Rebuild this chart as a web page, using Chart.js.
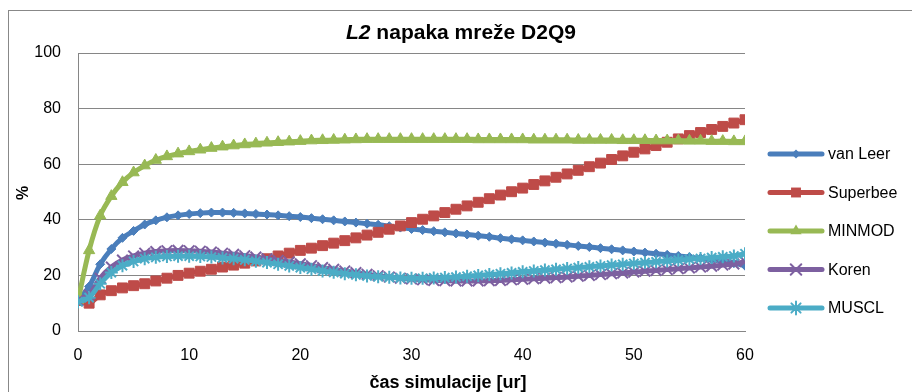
<!DOCTYPE html>
<html>
<head>
<meta charset="utf-8">
<script src="https://cdn.jsdelivr.net/npm/chart.js@4.4.1/dist/chart.umd.min.js"></script>
<style>
  html, body { margin: 0; padding: 0; background: #ffffff; }
  #wrap { position: relative; width: 912px; height: 392px; }
</style>
</head>
<body>
<div id="wrap"><canvas id="c" width="912" height="392"></canvas></div>
<script>
// ---- data ----
const timeHours = [0,1,2,3,4,5,6,7,8,9,10,11,12,13,14,15,16,17,18,19,20,21,22,23,24,25,26,27,28,29,30,
  31,32,33,34,35,36,37,38,39,40,41,42,43,44,45,46,47,48,49,50,51,52,53,54,55,56,57,58,59,60];

const vanLeer = [11,16,24,29.5,33.5,36,38.3,39.8,40.9,41.6,42.1,42.4,42.6,42.6,42.5,42.3,42.1,41.9,41.6,41.3,
  41,40.6,40.2,39.8,39.4,39,38.6,38.2,37.7,37.2,36.7,36.3,35.9,35.5,35.1,34.7,34.3,33.9,33.4,33,
  32.6,32.2,31.8,31.4,31,30.6,30.2,29.8,29.4,29,28.6,28.2,27.8,27.4,27,26.6,26.2,25.7,25.1,24.4,23.5];

const superbee = [11,10,13,14.5,15.5,16.3,17,18,19,20,20.8,21.5,22.2,23,23.7,24.4,25.2,26,27,28,
  29,29.8,30.7,31.6,32.5,33.5,34.5,35.5,36.6,37.8,39,40.2,41.4,42.6,43.8,45,46.3,47.6,48.9,50.1,
  51.4,52.7,54,55.3,56.5,57.8,59.1,60.4,61.7,63,64.3,65.5,66.7,67.9,69.1,70.3,71.4,72.5,73.6,74.8,76];

const minmod = [11,29,41.5,48.5,53.5,57,59.5,61.5,62.8,63.8,64.6,65.2,65.8,66.3,66.7,67.1,67.4,67.7,67.9,68.1,
  68.3,68.5,68.6,68.7,68.8,68.9,69,69,69,69,69,69,69,69,69,69,68.9,68.9,68.9,68.9,
  68.9,68.8,68.8,68.8,68.8,68.7,68.7,68.7,68.7,68.6,68.6,68.6,68.5,68.5,68.5,68.4,68.4,68.3,68.3,68.2,68.2];

const koren = [11,13,19,23,25.5,27,28,28.6,28.9,29,28.9,28.7,28.4,28,27.6,27.1,26.6,26,25.4,24.8,
  24.2,23.5,22.8,22.2,21.6,21,20.4,19.9,19.4,19,18.7,18.4,18.2,18.1,18,18,18,18.1,18.2,18.4,
  18.6,18.8,19,19.2,19.4,19.7,20,20.3,20.6,20.9,21.2,21.5,21.8,22.1,22.4,22.7,23,23.3,23.7,24.1,25];

const muscl = [10.5,12,17,21,23.5,25,26,26.5,26.8,26.9,26.9,26.8,26.6,26.3,26,25.6,25.1,24.6,24,23.4,
  22.8,22.2,21.6,21.1,20.6,20.2,19.8,19.5,19.3,19.1,19,19,19.1,19.2,19.4,19.7,20,20.3,20.6,20.9,
  21.3,21.6,21.9,22.2,22.5,22.8,23.1,23.4,23.7,24,24.3,24.6,24.9,25.2,25.5,25.8,26.1,26.4,26.7,27,27.8];

const seriesNames = ['van Leer', 'Superbee', 'MINMOD', 'Koren', 'MUSCL'];
const yTicks = [0, 20, 40, 60, 80, 100];
const xTicks = [0, 10, 20, 30, 40, 50, 60];
const chartTitleItalic = 'L2';
const chartTitleRest = ' napaka mreže D2Q9';
const xAxisTitle = 'čas simulacije [ur]';
const yAxisTitle = '%';

// ---- styling ----
const FONT = '"Liberation Sans", Arial, sans-serif';
const GRID = '#868686';
const styles = [
  { color: '#4A7EBB', point: 'rectRot',  radius: 4.5, bw: 1 },
  { color: '#BE4B48', point: 'rect',     radius: 7,   bw: 1 },
  { color: '#98B954', point: 'triangle', radius: 6.5, bw: 1 },
  { color: '#7D60A0', point: 'crossRot', radius: 7.5, bw: 2 },
  { color: '#4BACC6', point: 'star',     radius: 6.5, bw: 2 }
];
const values = [vanLeer, superbee, minmod, koren, muscl];

const datasets = seriesNames.map((name, i) => ({
  label: name,
  data: timeHours.map((t, k) => ({ x: t, y: values[i][k] })),
  borderColor: styles[i].color,
  backgroundColor: styles[i].color,
  pointBackgroundColor: styles[i].color,
  pointBorderColor: styles[i].color,
  pointStyle: styles[i].point,
  pointRadius: styles[i].radius,
  pointBorderWidth: styles[i].bw,
  borderWidth: 5,
  tension: 0.3,
  showLine: true,
  order: seriesNames.length - i
}));

function drawMarker(ctx, style, r, x, y, color, bw) {
  ctx.save();
  ctx.fillStyle = color; ctx.strokeStyle = color; ctx.lineWidth = bw;
  ctx.beginPath();
  if (style === 'rectRot') {
    ctx.moveTo(x, y - r); ctx.lineTo(x + r, y); ctx.lineTo(x, y + r); ctx.lineTo(x - r, y); ctx.closePath();
    ctx.fill();
  } else if (style === 'rect') {
    const s = r * Math.SQRT1_2; ctx.rect(x - s, y - s, 2 * s, 2 * s); ctx.fill();
  } else if (style === 'triangle') {
    ctx.moveTo(x, y - r);
    ctx.lineTo(x + r * Math.cos(Math.PI / 6), y + r * 0.5);
    ctx.lineTo(x - r * Math.cos(Math.PI / 6), y + r * 0.5);
    ctx.closePath(); ctx.fill();
  } else if (style === 'crossRot' || style === 'star') {
    const d = r * Math.SQRT1_2;
    ctx.moveTo(x - d, y - d); ctx.lineTo(x + d, y + d);
    ctx.moveTo(x - d, y + d); ctx.lineTo(x + d, y - d);
    if (style === 'star') { ctx.moveTo(x, y - r); ctx.lineTo(x, y + r); ctx.moveTo(x - r, y); ctx.lineTo(x + r, y); }
    ctx.stroke();
  }
  ctx.restore();
}

const decorPlugin = {
  id: 'decor',
  beforeDraw(chart) {
    const ctx = chart.ctx;
    ctx.save();
    ctx.fillStyle = '#ffffff';
    ctx.fillRect(0, 0, chart.width, chart.height);
    ctx.strokeStyle = '#888888';
    ctx.lineWidth = 1;
    ctx.strokeRect(8.5, 10.5, 1000, 1000);
    ctx.restore();
  },
  afterDraw(chart) {
    const ctx = chart.ctx;
    ctx.save();
    ctx.fillStyle = '#000000';
    ctx.textBaseline = 'alphabetic';
    // chart title
    const fItal = 'italic bold 21px ' + FONT;
    const fBold = 'bold 21px ' + FONT;
    ctx.font = fItal; const w1 = ctx.measureText(chartTitleItalic).width;
    ctx.font = fBold; const w2 = ctx.measureText(chartTitleRest).width;
    const tx = 461 - (w1 + w2) / 2;
    ctx.textAlign = 'left';
    ctx.font = fItal; ctx.fillText(chartTitleItalic, tx, 39);
    ctx.font = fBold; ctx.fillText(chartTitleRest, tx + w1, 39);
    // x axis title
    ctx.font = 'bold 18px ' + FONT;
    ctx.textAlign = 'center';
    ctx.fillText(xAxisTitle, 448, 388);
    // y axis title
    ctx.save();
    ctx.translate(28, 193);
    ctx.rotate(-Math.PI / 2);
    ctx.font = 'bold 16px ' + FONT;
    ctx.textAlign = 'center';
    ctx.fillText(yAxisTitle, 0, 0);
    ctx.restore();
    // legend
    const ly0 = 154, lstep = 38.5;
    ctx.font = '16px ' + FONT;
    ctx.textAlign = 'left';
    ctx.textBaseline = 'middle';
    seriesNames.forEach((name, i) => {
      const y = ly0 + i * lstep;
      const st = styles[i];
      ctx.strokeStyle = st.color; ctx.lineWidth = 5; ctx.lineCap = 'round';
      ctx.beginPath(); ctx.moveTo(770, y); ctx.lineTo(822, y); ctx.stroke();
      drawMarker(ctx, st.point, st.radius, 796, y, st.color, st.bw);
      ctx.fillStyle = '#000000';
      ctx.fillText(name, 828, y + 1);
    });
    ctx.restore();
  }
};

new Chart(document.getElementById('c'), {
  type: 'line',
  data: { datasets },
  plugins: [decorPlugin],
  options: {
    responsive: false,
    animation: false,
    devicePixelRatio: 1,
    layout: { padding: { top: 53, right: 167, left: 0, bottom: 0 } },
    plugins: { legend: { display: false }, title: { display: false }, tooltip: { enabled: false } },
    scales: {
      x: {
        type: 'linear', min: 0, max: 60,
        afterFit(scale) { scale.height = 61; },
        afterBuildTicks(scale) { scale.ticks = xTicks.map(v => ({ value: v })); },
        grid: { display: false, drawTicks: false },
        border: { display: true, color: GRID, width: 1 },
        ticks: { color: '#000', font: { family: FONT, size: 16 }, padding: 15, maxRotation: 0 }
      },
      y: {
        type: 'linear', min: 0, max: 100,
        afterFit(scale) { scale.width = 78; },
        afterBuildTicks(scale) { scale.ticks = yTicks.map(v => ({ value: v })); },
        grid: { color: GRID, drawTicks: false, lineWidth: 1 },
        border: { display: true, color: GRID, width: 1 },
        ticks: { color: '#000', font: { family: FONT, size: 16 }, padding: 17 }
      }
    }
  }
});
</script>
</body>
</html>
